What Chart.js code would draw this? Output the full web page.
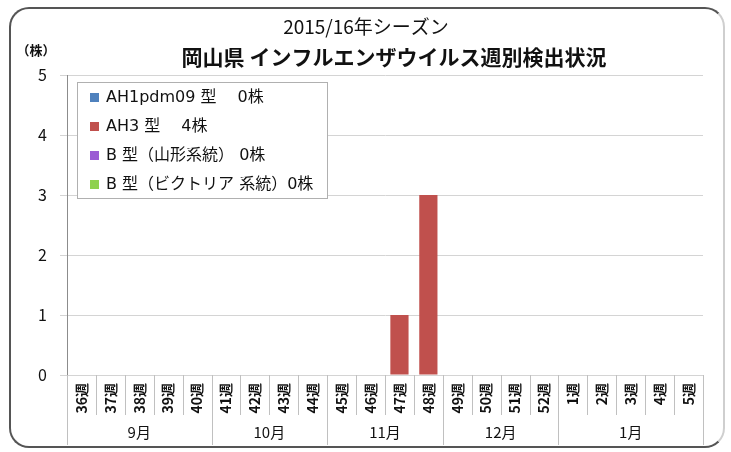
<!DOCTYPE html>
<html>
<head>
<meta charset="utf-8">
<script src="https://cdn.jsdelivr.net/npm/chart.js@4"></script>
<style>
  body { margin: 0; background: #fff; }
  #wrap { position: relative; width: 731px; height: 452px; }
  #frame {
    position: absolute; left: 9px; top: 7px; width: 712px; height: 437px;
    border: 2px solid #555; border-right-color: #cfcfcf; border-radius: 20px;
  }
  #grafico { position: absolute; left: 0; top: 0; }
</style>
</head>
<body>
<div id="wrap">
  <div id="frame"></div>
  <canvas id="grafico" width="731" height="452"></canvas>
</div>
<script>
const titulo1 = '2015/16年シーズン';
const titulo2 = '岡山県 インフルエンザウイルス週別検出状況';
const unidad = '（株）';

const semanas = ['36週','37週','38週','39週','40週','41週','42週','43週','44週','45週','46週','47週','48週','49週','50週','51週','52週','1週','2週','3週','4週','5週'];
const meses = ['9月','10月','11月','12月','1月'];
const semanasPorMes = [5, 4, 4, 4, 5];

const nombres = ['AH1pdm09 型', 'AH3 型', 'B 型（山形系統）', 'B 型（ビクトリア 系統）'];
const separadores = ['　 ', '　 ', ' ', ''];
const colores = ['#4F81BD', '#C0504D', '#9B5BD4', '#8FD14F'];

const ah1pdm09 = [0,0,0,0,0,0,0,0,0,0,0,0,0,0,0,0,0,0,0,0,0,0];
const ah3      = [0,0,0,0,0,0,0,0,0,0,0,1,3,0,0,0,0,0,0,0,0,0];
const bYamagata = [0,0,0,0,0,0,0,0,0,0,0,0,0,0,0,0,0,0,0,0,0,0];
const bVictoria = [0,0,0,0,0,0,0,0,0,0,0,0,0,0,0,0,0,0,0,0,0,0];
const series = [ah1pdm09, ah3, bYamagata, bVictoria];

const fuente = "'Noto Sans CJK JP', 'Noto Sans', sans-serif";
const fuenteLeyenda = "'DejaVu Sans', 'Noto Sans CJK JP', sans-serif";

// titulo, unidad, leyenda y meses dibujados a mano
const extras = {
    id: 'extras',
    afterDatasetsDraw(chart) {
        const { ctx, chartArea } = chart;
        // leyenda
        const lx = chartArea.left + 10, ly = chartArea.top + 7;
        ctx.save();
        ctx.fillStyle = '#fff';
        ctx.fillRect(lx, ly, 250, 116);
        ctx.strokeStyle = '#b0b0b0';
        ctx.lineWidth = 1;
        ctx.strokeRect(lx + 0.5, ly + 0.5, 250, 116);
        ctx.font = '16px ' + fuenteLeyenda;
        ctx.textBaseline = 'middle';
        chart.data.datasets.forEach((ds, i) => {
            const total = ds.data.reduce((a, b) => a + b, 0);
            const y = ly + 16 + i * 29;
            ctx.fillStyle = ds.backgroundColor;
            ctx.fillRect(lx + 13, y - 5, 9, 9);
            ctx.fillStyle = '#111';
            ctx.fillText(ds.label + separadores[i] + total + '株', lx + 29, y);
        });
        ctx.restore();
    },
    afterDraw(chart) {
        const { ctx, chartArea, scales: { x } } = chart;
        ctx.save();
        ctx.fillStyle = '#111';
        ctx.textAlign = 'center';
        ctx.textBaseline = 'middle';
        ctx.font = '19px ' + fuente;
        ctx.fillText(titulo1, 366, 27);
        ctx.font = 'bold 21px ' + fuente;
        ctx.fillText(titulo2, 394, 57);
        ctx.font = 'bold 13px ' + fuente;
        ctx.fillText(unidad, 36, 50);

        // separadores de semanas y meses
        const mitad = (x.getPixelForTick(1) - x.getPixelForTick(0)) / 2;
        const limites = [0];
        semanasPorMes.forEach(n => limites.push(limites[limites.length - 1] + n));
        ctx.strokeStyle = '#c0c0c0';
        ctx.lineWidth = 1;
        for (let i = 0; i <= semanas.length; i++) {
            const px = Math.round(i < semanas.length ? x.getPixelForTick(i) - mitad : x.getPixelForTick(i - 1) + mitad) + 0.5;
            const largo = limites.includes(i) ? 70 : 40;
            ctx.beginPath();
            ctx.moveTo(px, chartArea.bottom);
            ctx.lineTo(px, chartArea.bottom + largo);
            ctx.stroke();
        }
        ctx.font = '15px ' + fuente;
        meses.forEach((m, k) => {
            const a = x.getPixelForTick(limites[k]) - mitad;
            const b = x.getPixelForTick(limites[k + 1] - 1) + mitad;
            ctx.fillText(m, (a + b) / 2, chartArea.bottom + 57);
        });
        ctx.restore();
    }
};

const grafico = document.querySelector('#grafico');

new Chart(grafico, {
    type: 'bar',
    data: {
        labels: semanas,
        datasets: nombres.map((nombre, i) => ({
            label: nombre,
            data: series[i],
            backgroundColor: colores[i],
            categoryPercentage: 1,
            barPercentage: 0.63
        }))
    },
    options: {
        responsive: false,
        animation: false,
        devicePixelRatio: 1,
        layout: { padding: { left: 10, top: 75, right: 28, bottom: 7 } },
        plugins: {
            legend: { display: false },
            title: { display: false },
            tooltip: { enabled: false }
        },
        scales: {
            x: {
                stacked: true,
                grid: { display: false, drawTicks: false },
                border: { display: false },
                afterFit: s => { s.height = 70; },
                ticks: {
                    autoSkip: false,
                    minRotation: 90,
                    maxRotation: 90,
                    padding: 8,
                    color: '#111',
                    font: { family: fuente, size: 14, weight: 'bold' }
                }
            },
            y: {
                stacked: true,
                min: 0,
                max: 5,
                afterFit: s => { s.width = 57; },
                grid: { color: '#d4d4d4', tickLength: 7 },
                border: { display: true, color: '#8c8c8c' },
                ticks: {
                    stepSize: 1,
                    padding: 13,
                    color: '#111',
                    font: { family: fuente, size: 16 }
                }
            }
        }
    },
    plugins: [extras]
});
</script>
</body>
</html>
